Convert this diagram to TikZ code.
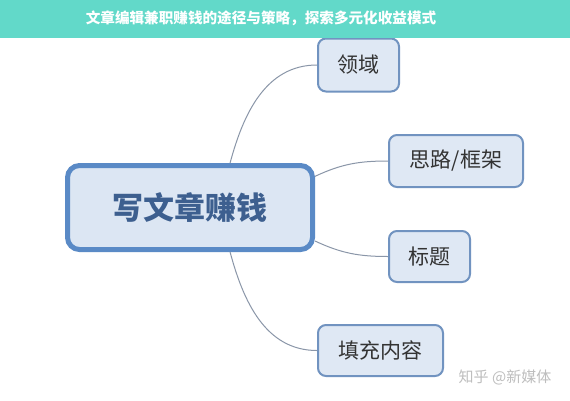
\documentclass[tikz,border=0pt]{standalone}
\usepackage{fontspec}
\newfontfamily\cjk{Noto Sans CJK SC}
\definecolor{barteal}{RGB}{98,217,201}
\definecolor{mainborder}{RGB}{90,138,198}
\definecolor{mainfill}{RGB}{220,230,243}
\definecolor{maintext}{RGB}{61,95,143}
\definecolor{subborder}{RGB}{113,147,192}
\definecolor{subfill}{RGB}{223,232,244}
\definecolor{subtext}{RGB}{51,51,51}
\definecolor{linkgray}{RGB}{138,150,168}
\definecolor{wmgray}{RGB}{190,190,190}
\begin{document}
\begin{tikzpicture}[x=1pt,y=-1pt,
  mainbox/.style={draw=mainborder,fill=mainfill,line width=5pt,rounded corners=12pt,
    inner sep=0pt,text=maintext,font=\cjk\bfseries\fontsize{31}{31}\selectfont},
  subbox/.style={draw=subborder,fill=subfill,line width=2pt,rounded corners=8pt,
    inner sep=0pt,text=subtext,font=\cjk\fontsize{21}{21}\selectfont},
  link/.style={draw=linkgray,line width=1pt}]
\useasboundingbox (0,0) rectangle (570,400);
\fill[white] (0,0) rectangle (570,400);
% nodes
\node[mainbox,minimum width=245pt,minimum height=84pt] (main) at (190,207.5) {写文章赚钱};
\node[subbox,minimum width=81pt,minimum height=53pt] (lingyu) at (358.5,65) {领域};
\node[subbox,minimum width=134pt,minimum height=52pt] (silu) at (456,161) {思路/框架};
\node[subbox,minimum width=81pt,minimum height=51pt] (biaoti) at (429.5,256.5) {标题};
\node[subbox,minimum width=125pt,minimum height=51pt] (tianchong) at (380.5,350.5) {填充内容};
% connectors
\draw[link] (main.48) to[out=75,in=180] (lingyu.west);
\draw[link] (main.14) to[out=25,in=180] (silu.west);
\draw[link] (main.-15) to[out=-25,in=180] (biaoti.west);
\draw[link] (main.-48) to[out=-75,in=180] (tianchong.west);
% title bar
\fill[barteal] (0,0) rectangle (570,38);
\node[text=white,font=\cjk\bfseries\fontsize{14.6}{14.6}\selectfont] (title) at (261,18) {文章编辑兼职赚钱的途径与策略，探索多元化收益模式};
% watermark
\node[text=wmgray,font=\cjk\fontsize{15}{15}\selectfont] (wm) at (505,377) {知乎 @新媒体};
\end{tikzpicture}
\end{document}
